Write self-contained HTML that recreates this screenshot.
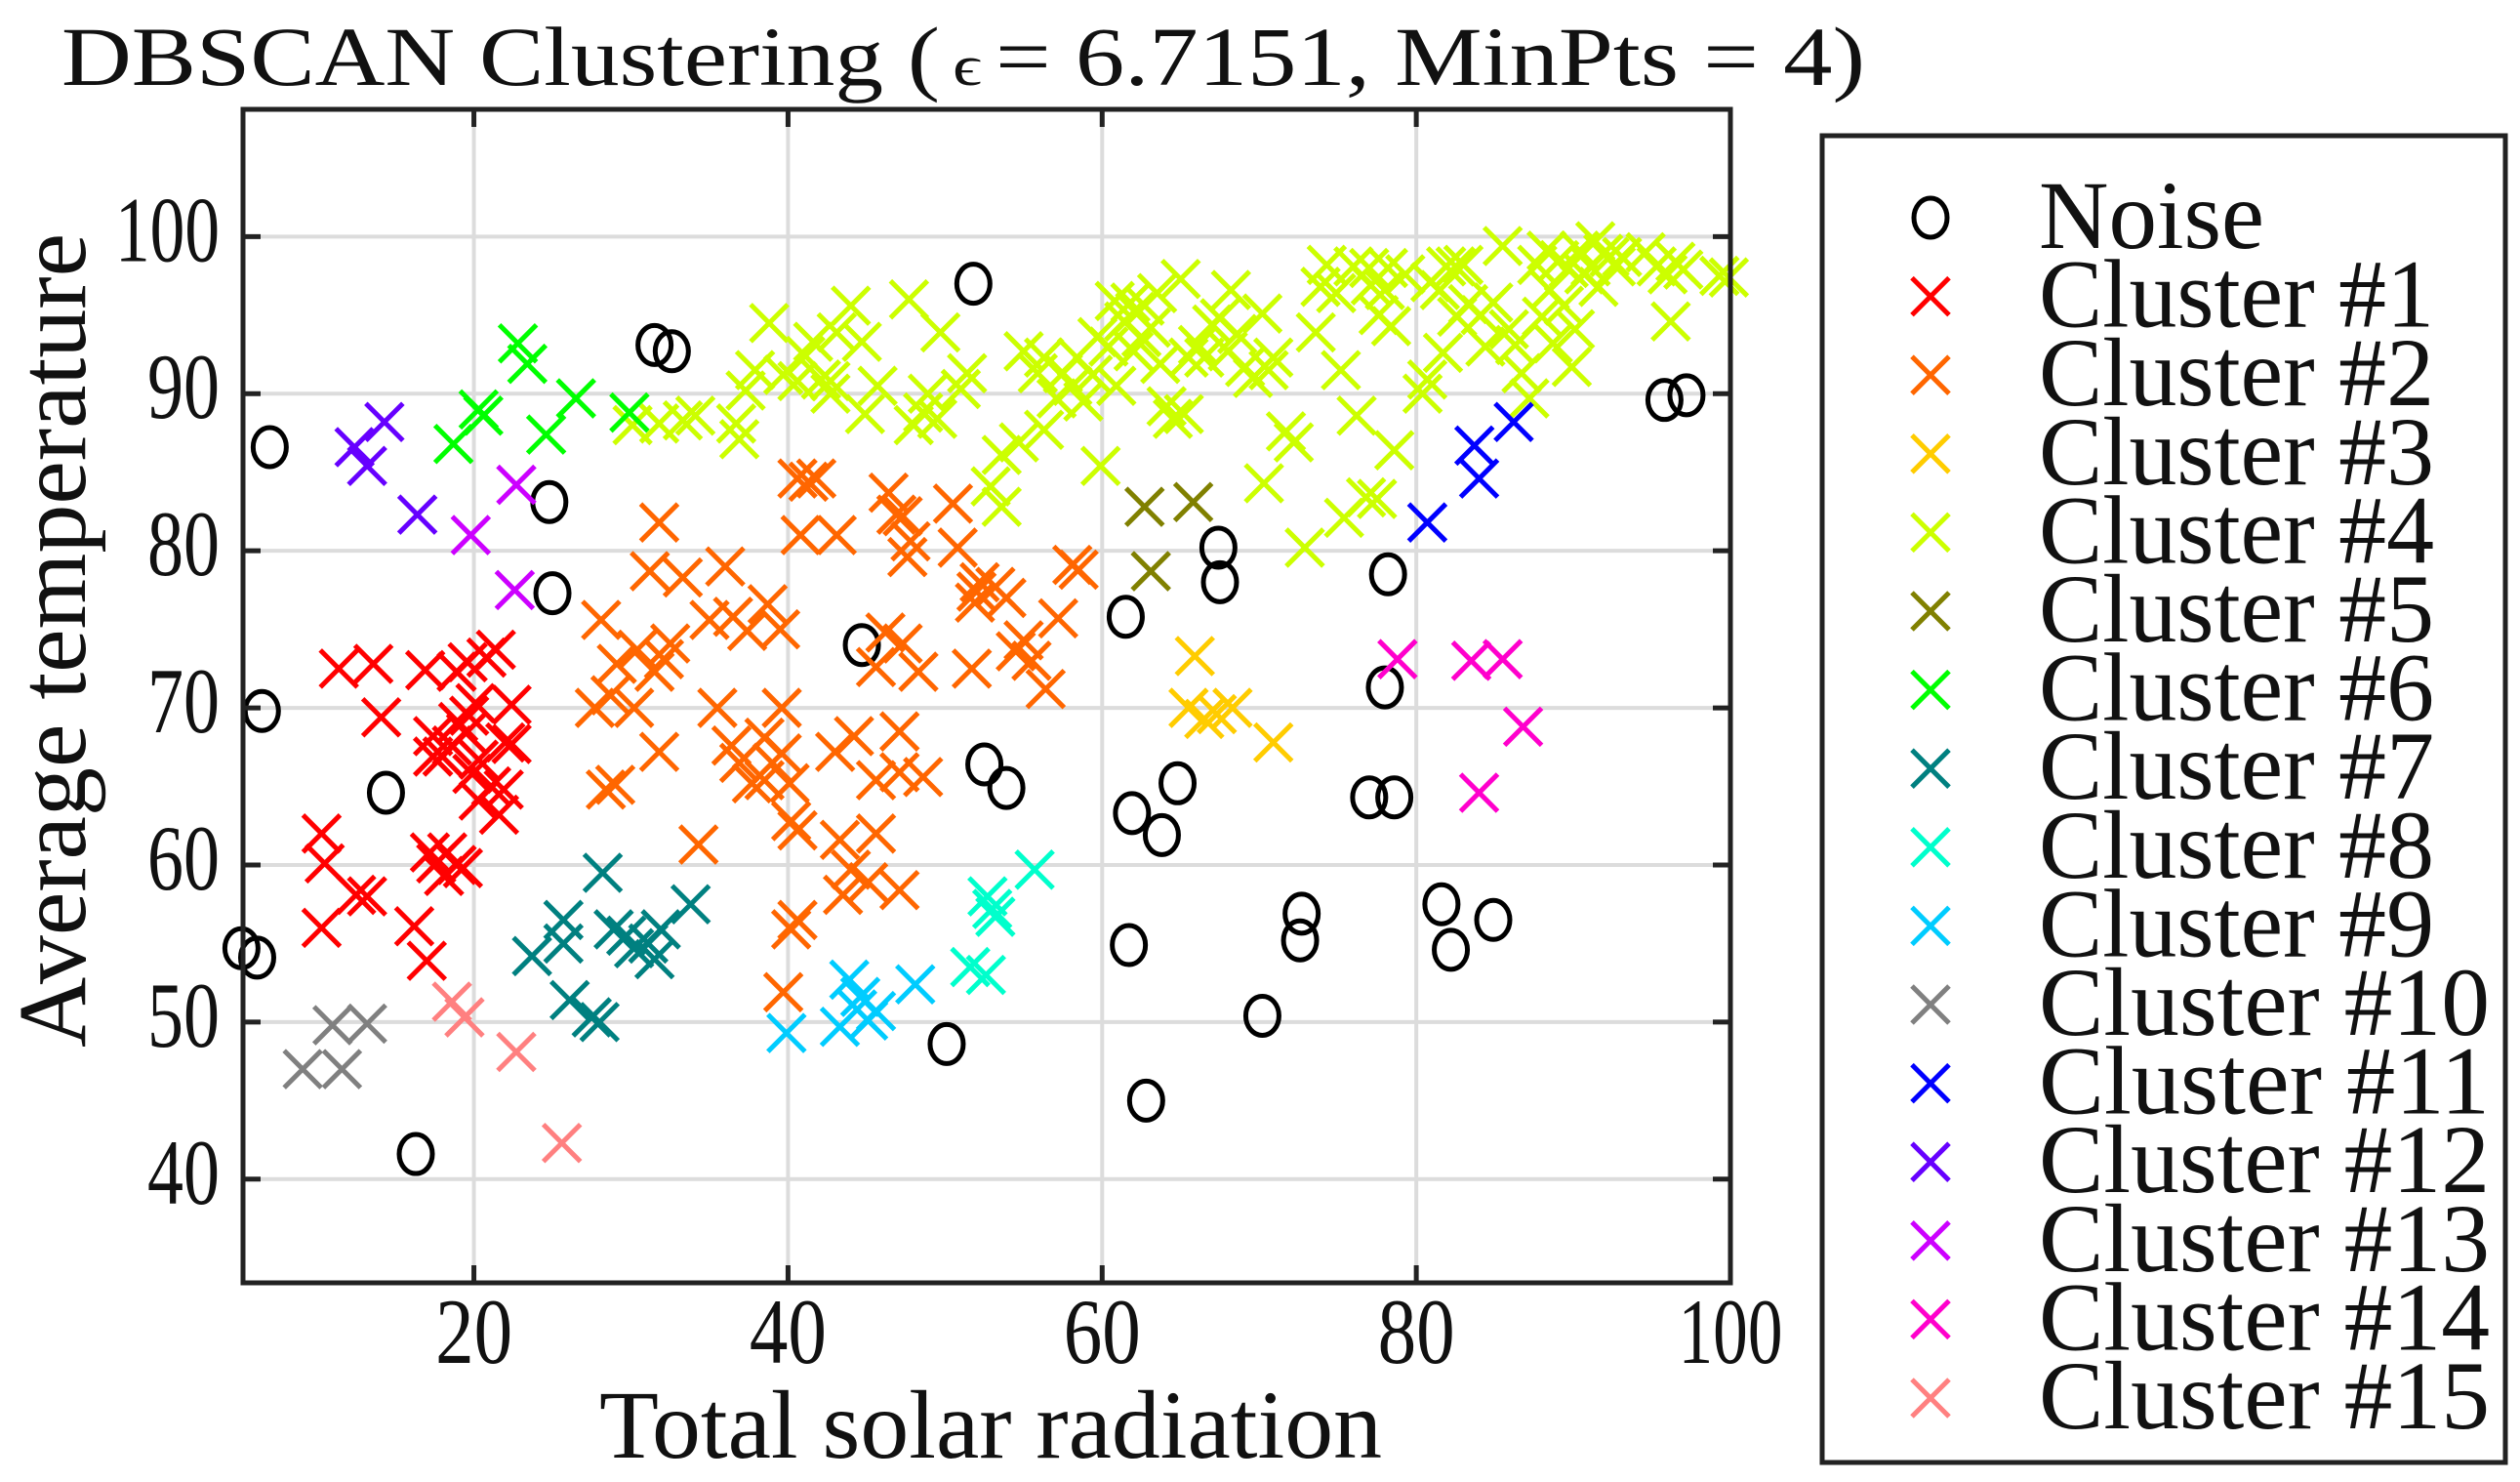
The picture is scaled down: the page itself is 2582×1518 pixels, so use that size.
<!DOCTYPE html>
<html><head><meta charset="utf-8"><style>
html,body{margin:0;padding:0;background:#fff;}
svg{display:block;}
text{font-family:"Liberation Serif",serif;fill:#111;}
</style></head><body>
<svg id="chart" width="2582" height="1518" viewBox="0 0 2582 1518" xmlns="http://www.w3.org/2000/svg">
<rect width="2582" height="1518" fill="#fff"/>
<g id="title">
<text x="63" y="87" font-size="86" textLength="900" lengthAdjust="spacingAndGlyphs">DBSCAN Clustering (</text>
<text x="976" y="87" font-size="58" textLength="30" lengthAdjust="spacingAndGlyphs">ϵ</text>
<text x="1020" y="87" font-size="86" textLength="891" lengthAdjust="spacingAndGlyphs">= 6.7151, MinPts = 4)</text>
</g>
<g id="grid"></g>
<g id="marks"></g>
<rect x="249" y="112" width="1524" height="1202" fill="none" stroke="#222" stroke-width="5"/>
<g id="ticks"></g>
<text x="614" y="1493" font-size="100" textLength="802" lengthAdjust="spacingAndGlyphs">Total solar radiation</text>
<text transform="translate(87,1073) rotate(-90)" x="0" y="0" font-size="100" textLength="834" lengthAdjust="spacingAndGlyphs">Average temperature</text>
<g id="legend">
<rect x="1867" y="139" width="700" height="1359" fill="#fff" stroke="#222" stroke-width="5"/>
</g>
</svg>
<script>
const xTicks=[20,40,60,80,100];
const yTicks=[40,50,60,70,80,90,100];
const xDomain=[5.3,100];
const yDomain=[33.4,108.1];
const seriesNames=["Noise","Cluster #1","Cluster #2","Cluster #3","Cluster #4","Cluster #5","Cluster #6","Cluster #7","Cluster #8","Cluster #9","Cluster #10","Cluster #11","Cluster #12","Cluster #13","Cluster #14","Cluster #15"];
const seriesColors=["#000000","#ff0000","#ff6600","#ffcc00","#ccff00","#808000","#00ff00","#008080","#00ffcc","#00ccff","#808080","#0000ff","#6600ff","#cc00ff","#ff00cc","#ff8080"];
const noiseX=[7.0,6.5,5.2,6.2,14.4,16.3,24.8,25.0,31.5,32.6,44.7,51.8,52.5,53.9,50.1,61.5,61.9,61.7,63.8,64.8,62.8,67.4,67.5,70.2,72.7,72.6,77.0,78.6,78.0,78.2,81.6,82.2,84.9,95.8,97.2];
const noiseY=[86.6,69.8,54.7,54.1,64.6,41.6,83.1,77.3,93.1,92.7,74.0,97.0,66.4,64.9,48.6,75.8,63.3,54.9,61.9,65.2,45.0,80.2,78.0,50.4,56.9,55.2,64.3,64.3,71.3,78.5,57.5,54.6,56.5,89.6,89.9];
const c1X=[11.4,13.6,14.1,10.3,10.5,10.3,12.5,13.2,16.2,17.0,16.9,17.4,18.9,19.6,20.1,20.8,21.4,22.4,22.4,21.9,20.3,19.9,18.6,18.0,17.4,19.0,19.5,19.7,20.3,21.1,21.6,22.0,17.2,17.6,18.3,18.9,18.1,19.3];
const c1Y=[72.5,72.8,69.4,62.0,60.1,56.0,58.1,58.0,56.1,53.9,72.4,68.2,72.3,72.9,70.3,73.2,73.7,70.2,67.7,64.8,64.1,65.8,67.6,66.9,66.9,69.1,68.4,69.5,66.7,65.0,63.2,67.8,60.8,60.1,60.8,60.0,59.3,59.8];
const c2X=[40.6,41.3,41.8,43.1,40.8,31.8,31.2,33.3,28.1,29.1,30.4,31.5,32.5,32.1,28.7,27.7,30.2,31.8,29.0,28.4,34.3,36.0,36.5,37.4,38.7,39.5,35.0,35.5,36.4,36.9,37.7,38.5,39.0,39.6,39.6,38.5,40.1,40.2,40.6,40.2,40.6,39.7,43.0,44.2,45.6,47.1,48.6,43.3,45.6,44.0,43.5,45.1,47.1,47.1,47.3,48.3,46.4,46.9,47.3,47.8,47.6,50.5,52.2,52.0,51.9,51.7,53.9,55.0,54.5,55.5,57.2,56.4,58.1,58.5,53.2,50.8,46.2,45.6];
const c2Y=[84.6,84.4,84.6,81.0,81.0,81.8,78.7,78.3,75.6,72.8,73.7,72.3,74.1,73.1,70.8,70.0,70.0,67.2,65.1,64.8,61.3,79.0,75.8,74.9,76.6,75.0,75.6,70.0,67.6,66.5,65.2,65.4,66.5,67.1,70.0,68.1,65.2,62.8,62.2,55.9,56.5,51.9,67.2,68.2,65.4,65.9,65.6,61.6,62.0,59.7,58.1,58.9,58.4,68.5,74.1,72.3,83.7,82.3,82.2,80.6,79.6,83.0,78.0,77.4,76.7,72.5,77.0,74.3,73.6,73.0,75.7,71.2,79.1,78.8,77.7,80.2,74.8,72.6];
const c3X=[65.9,65.5,66.5,67.3,68.3,70.9];
const c3Y=[73.3,70.0,69.3,69.6,70.0,67.8];
const c4X=[30.1,31.8,33.3,34.1,36.7,36.9,37.3,37.9,38.8,39.7,40.6,41.1,41.6,42.1,42.7,43.1,44.0,44.7,44.9,47.7,48.0,48.6,49.5,49.7,51.0,51.4,52.9,53.6,53.6,54.7,55.0,55.9,56.3,57.1,57.5,58.1,58.4,58.8,59.4,59.9,59.7,60.4,60.8,60.9,61.4,61.8,62.1,62.7,63.1,63.5,62.5,62.0,63.7,64.1,64.5,65.2,65.5,65.0,66.1,66.5,67.0,67.5,68.0,68.2,68.6,69.1,69.6,70.2,70.6,70.9,71.7,72.2,70.3,72.9,73.6,73.9,74.3,74.9,75.2,75.4,76.0,76.2,76.8,77.0,77.1,77.5,77.6,78.0,78.2,78.4,78.6,79.3,80.4,80.7,80.9,81.5,81.7,81.9,82.5,82.6,83.0,83.3,84.1,84.4,84.9,85.5,85.9,86.3,86.7,87.2,87.7,88.0,88.3,88.5,88.7,89.1,89.4,89.7,89.9,90.1,90.4,90.7,91.1,91.4,91.6,91.9,92.3,92.7,93.1,94.6,95.3,96.0,96.2,96.5,97.0,99.3,99.9,48.9,45.7,42.7,56.3];
const c4Y=[88.0,88.1,88.3,88.6,88.1,87.1,90.2,91.5,94.5,91.2,90.8,92.4,93.3,90.9,90.0,93.9,95.6,93.3,88.7,96.0,88.0,88.8,88.4,93.9,90.3,91.3,84.1,86.1,82.8,86.9,92.7,91.3,92.3,89.7,91.3,90.5,92.3,89.5,91.2,85.4,93.6,93.0,95.9,90.5,94.6,95.8,95.2,95.6,94.2,96.4,93.6,92.7,91.9,89.2,88.4,88.7,92.3,97.3,93.1,92.3,94.4,94.8,92.7,96.6,93.8,91.7,91.0,95.1,91.5,92.3,87.6,86.9,84.3,80.2,93.9,96.8,98.2,96.4,91.5,82.1,98.1,88.6,83.4,98.0,96.9,83.3,95.0,96.6,98.0,94.3,86.4,97.6,90.0,90.9,97.1,96.6,92.6,98.1,98.1,94.9,98.2,95.7,95.0,93.0,95.8,99.4,94.1,93.1,91.3,89.7,98.2,94.9,99.1,96.6,93.2,98.5,95.6,98.0,91.7,94.1,99.1,97.6,98.1,99.7,96.8,98.9,98.7,98.1,98.7,99.0,98.1,97.6,94.6,98.4,97.9,97.5,97.4,90.0,90.5,90.8,87.7];
const c5X=[62.7,65.8,63.1];
const c5Y=[82.8,83.1,78.7];
const c6X=[22.8,23.4,20.3,20.6,18.7,24.6,26.5,29.9];
const c6Y=[93.2,91.9,89.0,88.6,86.8,87.4,89.7,88.8];
const c7X=[28.2,23.7,25.7,25.7,28.9,29.7,30.2,31.1,31.5,31.9,33.8,26.1,27.5,28.0];
const c7Y=[59.5,54.2,56.5,55.0,55.9,55.5,54.7,55.0,54.0,55.9,57.5,51.4,50.3,50.0];
const c8X=[55.7,52.7,53.0,53.2,51.6,52.6];
const c8Y=[59.7,58.0,57.2,56.7,53.5,53.0];
const c9X=[39.9,43.9,43.3,44.4,45.1,45.6,48.1,44.6];
const c9Y=[49.3,52.7,49.7,50.8,50.1,50.7,52.4,51.6];
const c10X=[11.0,13.2,9.1,11.6];
const c10Y=[49.8,49.9,47.0,47.0];
const c11X=[80.7,83.7,84.0,86.2];
const c11Y=[81.8,86.7,84.6,88.2];
const c12X=[12.4,13.2,14.3,16.4];
const c12Y=[86.6,85.4,88.2,82.3];
const c13X=[19.8,22.7,22.6];
const c13Y=[81.0,84.2,77.5];
const c14X=[78.8,83.5,85.5,86.8,84.0];
const c14Y=[73.1,73.0,73.1,68.8,64.6];
const c15X=[18.6,19.4,22.7,25.6];
const c15Y=[51.3,50.3,48.1,42.3];

const PL=249,PR=1773,PT=112,PB=1314;
function sx(v){return PL+(v-xDomain[0])/(xDomain[1]-xDomain[0])*(PR-PL);}
function sy(v){return PB-(v-yDomain[0])/(yDomain[1]-yDomain[0])*(PB-PT);}
const NS="http://www.w3.org/2000/svg";
function mk(tag,attrs,parent){const e=document.createElementNS(NS,tag);for(const k in attrs)e.setAttribute(k,attrs[k]);parent.appendChild(e);return e;}
const grid=document.getElementById('grid'),ticks=document.getElementById('ticks'),marks=document.getElementById('marks'),legend=document.getElementById('legend');
xTicks.forEach(v=>{const x=sx(v);
 if(v<100){const g=mk('line',{x1:x,x2:x,y1:PT,y2:PB,stroke:'#dcdcdc','stroke-width':4},grid);
 
 }
 const t1=mk('line',{x1:x,x2:x,y1:PT,y2:PT+18,stroke:'#222','stroke-width':5},ticks);
 
 
 const t2=mk('line',{x1:x,x2:x,y1:PB,y2:PB-18,stroke:'#222','stroke-width':5},ticks);
 
 
 const s=String(v);
 const lb=mk('text',{x:x,y:1396,'font-size':95,'text-anchor':'middle',textLength:s.length>2?107:79,lengthAdjust:'spacingAndGlyphs'},ticks);lb.textContent=s;
 
 
});
yTicks.forEach(v=>{const y=sy(v);
 const g=mk('line',{x1:PL,x2:PR,y1:y,y2:y,stroke:'#dcdcdc','stroke-width':4},grid);
 
 
 const t1=mk('line',{x1:PL,x2:PL+18,y1:y,y2:y,stroke:'#222','stroke-width':5},ticks);
 
 
 const t2=mk('line',{x1:PR,x2:PR-18,y1:y,y2:y,stroke:'#222','stroke-width':5},ticks);
 
 
 const s=String(v);
 const lb=mk('text',{x:225,y:y+25,'font-size':95,'text-anchor':'end',textLength:s.length>2?107:74,lengthAdjust:'spacingAndGlyphs'},ticks);lb.textContent=s;
 
 
});
function cross(cx,cy,col,parent,name){const h=19;
 const p=mk('path',{d:`M${cx-h},${cy-h}L${cx+h},${cy+h}M${cx-h},${cy+h}L${cx+h},${cy-h}`,stroke:col,'stroke-width':5,fill:'none'},parent);
 
 }
function circ(cx,cy,parent,name){
 const c=mk('ellipse',{cx:cx,cy:cy,rx:17,ry:20,stroke:'#000','stroke-width':5,fill:'none'},parent);
 
 }
const allX=[noiseX,c1X,c2X,c3X,c4X,c5X,c6X,c7X,c8X,c9X,c10X,c11X,c12X,c13X,c14X,c15X];
const allY=[noiseY,c1Y,c2Y,c3Y,c4Y,c5Y,c6Y,c7Y,c8Y,c9Y,c10Y,c11Y,c12Y,c13Y,c14Y,c15Y];
for(let s=0;s<allX.length;s++){
 const g=mk('g',{},marks);
 
 
 for(let i=0;i<allX[s].length;i++){
  if(s===0)circ(sx(allX[s][i]),sy(allY[s][i]),g,'noise-point');
  else cross(sx(allX[s][i]),sy(allY[s][i]),seriesColors[s],g,'cluster-point');
 }
}
seriesNames.forEach((n,i)=>{
 const y=223+i*80.6;
 const g=mk('g',{},legend);
 
 
 if(i===0)circ(1978,y,g,'legend-marker');else cross(1978,y,seriesColors[i],g,'legend-marker');
 const len=i===0?231:(i<10?405:462);
 const t=mk('text',{x:2089,y:y+31,'font-size':100,textLength:len,lengthAdjust:'spacingAndGlyphs'},g);t.textContent=n;
 
 
});
</script>
</body></html>
